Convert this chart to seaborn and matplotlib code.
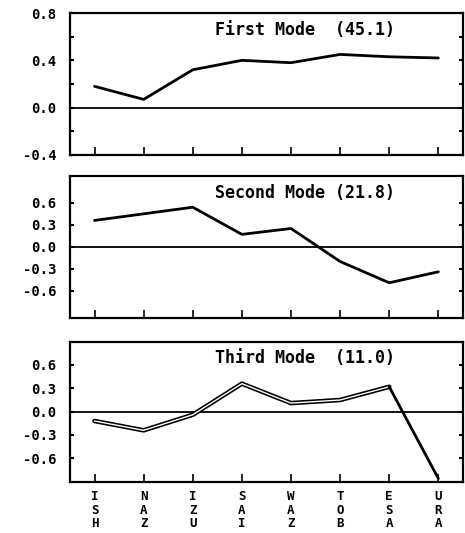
import numpy as np
import pandas as pd
import matplotlib
matplotlib.use("Agg")
import matplotlib.pyplot as plt
import seaborn as sns
from matplotlib.ticker import MultipleLocator, NullLocator

sns.set_theme(style="white")
plt.rcParams['font.family'] = ['DejaVu Sans Mono', 'DejaVu Sans']

stations = ["ISH", "NAZ", "IZU", "SAI", "WAZ", "TOB", "ESA", "URA"]
mode1 = [0.18, 0.07, 0.32, 0.40, 0.38, 0.45, 0.43, 0.42]
mode2 = [0.36, 0.45, 0.54, 0.17, 0.25, -0.20, -0.49, -0.34]
mode3 = [-0.12, -0.24, -0.04, 0.36, 0.11, 0.15, 0.32, -0.86]

titles = ["First Mode  (45.1)", "Second Mode (21.8)", "Third Mode  (11.0)"]
ylims = [(-0.4, 0.8), (-0.97, 0.97), (-0.9, 0.9)]
yticks = [[-0.4, 0.0, 0.4, 0.8], [-0.6, -0.3, 0.0, 0.3, 0.6], [-0.6, -0.3, 0.0, 0.3, 0.6]]

fig = plt.figure(figsize=(4.65, 5.33), dpi=100)
rects = [
    [0.1505, 0.7092, 0.845, 0.2664],
    [0.1505, 0.4034, 0.845, 0.2670],
    [0.1505, 0.0963, 0.845, 0.2627],
]
series = [mode1, mode2, mode3]

for i, (rect, vals) in enumerate(zip(rects, series)):
    ax = fig.add_axes(rect)
    df = pd.DataFrame({"station": stations, "value": vals})
    if i < 2:
        sns.lineplot(data=df, x="station", y="value", ax=ax, color="black",
                     linewidth=2.0, sort=False)
    else:
        sns.lineplot(data=df.iloc[:7], x="station", y="value", ax=ax, color="black",
                     linewidth=3.3, sort=False)
        sns.lineplot(data=df.iloc[:7], x="station", y="value", ax=ax, color="white",
                     linewidth=1.0, sort=False)
        sns.lineplot(data=df.iloc[6:], x="station", y="value", ax=ax, color="black",
                     linewidth=2.0, sort=False)
    ax.axhline(0, color="black", linewidth=1.3, zorder=1)
    ax.set_xlim(-0.5, 7.5)
    ax.set_ylim(*ylims[i])
    ax.set_yticks(yticks[i])
    ax.set_yticklabels([f"{t:.1f}" for t in yticks[i]], fontsize=10, fontweight="bold")
    if i == 0:
        ax.yaxis.set_minor_locator(MultipleLocator(0.2))
    else:
        ax.yaxis.set_minor_locator(NullLocator())
    ax.tick_params(axis="y", which="both", direction="in", length=3, width=1.5,
                   left=True, right=True, pad=10, colors="black")
    ax.tick_params(axis="x", which="major", direction="in", length=6, width=1.2,
                   bottom=True, pad=6, colors="black")
    ax.set_xticks(range(len(stations)))
    if i == 2:
        ax.set_xticklabels(["\n".join(s) for s in stations], fontsize=9,
                           fontweight="bold", linespacing=1.05)
    else:
        ax.set_xticklabels([])
    ax.set_xlabel("")
    ax.set_ylabel("")
    for sp in ax.spines.values():
        sp.set_color("black")
        sp.set_linewidth(1.6)
    ax.text(0.598, 0.88, titles[i], transform=ax.transAxes, ha="center", va="center",
            fontsize=12, fontweight="bold", color="black")
    ax.grid(False)

fig.savefig("out.png", dpi=100)
